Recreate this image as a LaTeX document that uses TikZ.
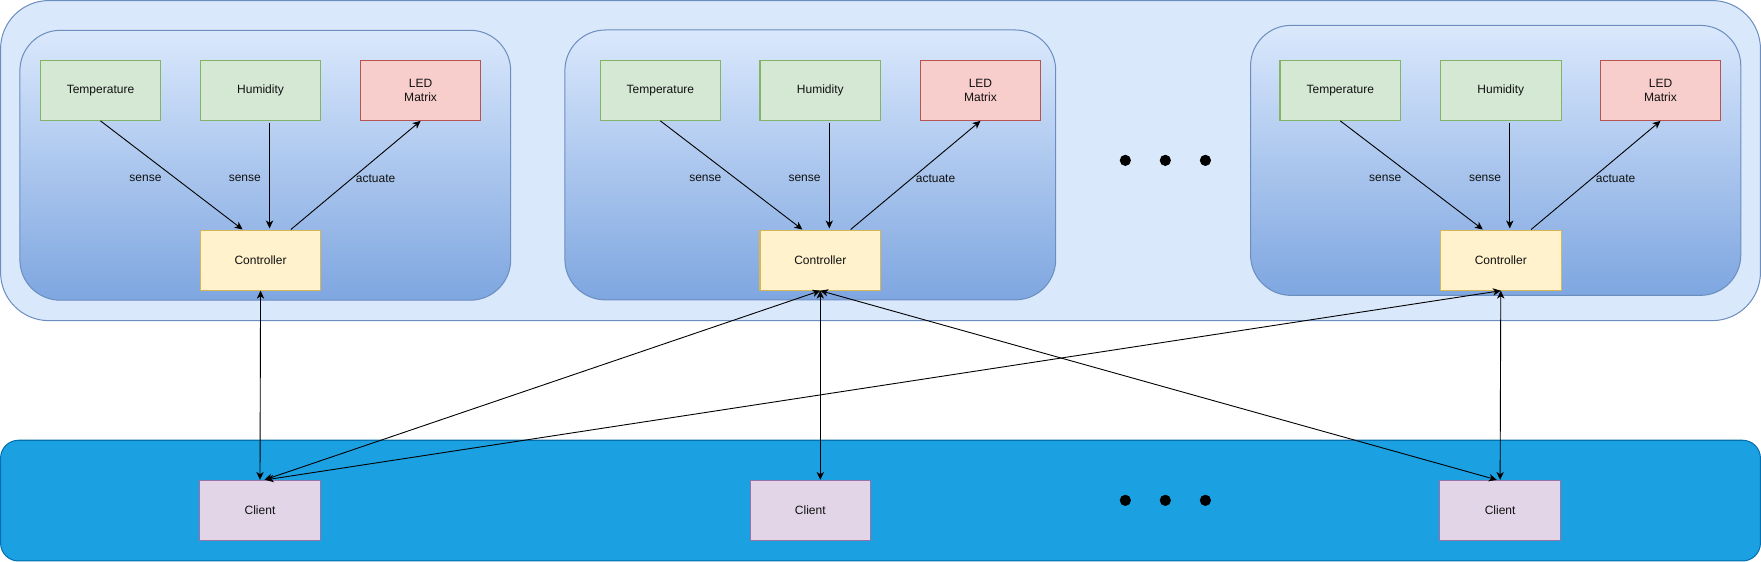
\documentclass[tikz,border=0pt]{standalone}
\usepackage{fontspec}
\setmainfont{Liberation Sans}
\usetikzlibrary{arrows.meta,calc}
\definecolor{outerfill}{HTML}{DAE8FC}
\definecolor{outerline}{HTML}{6C8EBF}
\definecolor{gradbot}{HTML}{7EA6E0}
\definecolor{greenfill}{HTML}{D5E8D4}
\definecolor{greenline}{HTML}{82B366}
\definecolor{redfill}{HTML}{F8CECC}
\definecolor{redline}{HTML}{B85450}
\definecolor{yellowfill}{HTML}{FFF2CC}
\definecolor{yellowline}{HTML}{D6B656}
\definecolor{purplefill}{HTML}{E1D5E7}
\definecolor{purpleline}{HTML}{9673A6}
\definecolor{bluefill}{HTML}{1BA1E2}
\definecolor{blueline}{HTML}{006EAF}
\definecolor{txt}{HTML}{111111}
\tikzset{
  box/.style={draw, line width=0.9pt, minimum width=107.4pt, minimum height=53.6pt, inner sep=0pt, align=center, text=txt, font=\fontsize{10.7}{12.5}\selectfont},
  sensorbox/.style={box, fill=greenfill, draw=greenline},
  ledbox/.style={box, fill=redfill, draw=redline},
  ctlbox/.style={box, fill=yellowfill, draw=yellowline},
  clientbox/.style={box, fill=purplefill, draw=purpleline},
  lbl/.style={text=txt, inner sep=0pt, font=\fontsize{10.7}{12.5}\selectfont},
  arr/.style={-{Stealth[length=7pt,width=6.5pt,inset=2pt]}, line width=0.8pt},
  dbl/.style={{Stealth[length=7pt,width=6.5pt,inset=2pt]}-{Stealth[length=7pt,width=6.5pt,inset=2pt]}, line width=0.8pt},
  dot/.style={fill=black}
}
\begin{document}
\begin{tikzpicture}[x=1pt,y=-1pt]
\useasboundingbox (0,0) rectangle (1568,500);
% containers
\filldraw[fill=outerfill, draw=outerline, line width=0.9pt, rounded corners=43pt] (0.5,0.5) rectangle (1567.5,285.5);
\filldraw[fill=bluefill, draw=blueline, line width=0.9pt, rounded corners=16pt] (0.5,392) rectangle (1567.5,499.5);
% inner groups
\foreach \i/\xa/\xb/\ya/\yb in {1/17.7/454.7/27/267.3, 2/503/940/26.7/267, 3/1113.5/1550/22.6/263}{
  \shadedraw[top color=outerfill, bottom color=gradbot, draw=outerline, line width=0.9pt, rounded corners=36pt] (\xa,\ya) rectangle (\xb,\yb);
}
% nodes and edges of each group
\foreach \i/\tx/\hx/\lx in {1/89.5/232/374.5, 2/588/730.4/873, 3/1193.4/1336.3/1478.5}{
  \node[sensorbox] (t\i) at (\tx,80.4) {Temperature};
  \node[sensorbox] (h\i) at (\hx,80.4) {Humidity};
  \node[ledbox] (l\i) at (\lx,80.4) {LED\\Matrix};
  \node[ctlbox] (c\i) at (\hx,231.6) {Controller};
  \draw[arr] (t\i.south) -- ($(c\i.north)+(-16,0)$);
  \draw[arr] ($(h\i.south)+(8,1.5)$) -- ($(c\i.north)+(8,-1)$);
  \draw[arr] ($(c\i.north)+(27,0)$) -- (l\i.south);
  \node[lbl] (s\i) at (\tx+40,159) {sense};
  \node[lbl] (u\i) at (\hx-14,159) {sense};
  \node[lbl] (a\i) at (\lx-40,159) {actuate};
}
% clients
\node[clientbox] (k1) at (231.5,454.5) {Client};
\node[clientbox] (k2) at (721.5,454.5) {Client};
\node[clientbox] (k3) at (1335.7,454.5) {Client};
% dots
\foreach \x in {1002,1037.6,1073.3}{
  \fill[dot] (\x,142.8) circle (5pt);
  \fill[dot] (\x,445.5) circle (5pt);
}
% controller-client links
\draw[dbl] (c1.south) -- (k1.north);
\draw[dbl] (c2.south) -- ($(k1.north)+(4,0)$);
\draw[dbl] (c3.south) -- ($(k1.north)+(5,0)$);
\draw[dbl] (c2.south) -- (c2.south |- k2.north);
\draw[dbl] (c2.south) -- ($(k3.north)+(-3,0)$);
\draw[dbl] (c3.south) -- (k3.north);
\end{tikzpicture}
\end{document}
